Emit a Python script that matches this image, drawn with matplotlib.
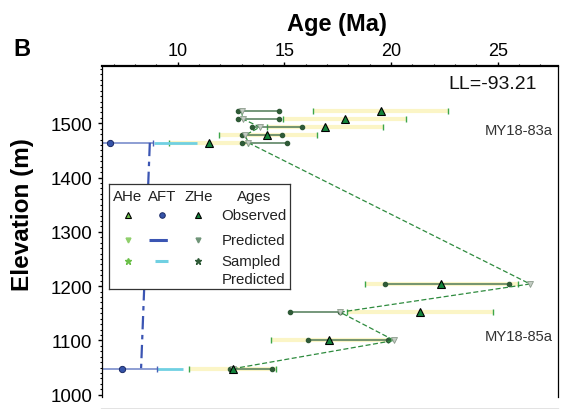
import matplotlib
matplotlib.use("Agg")
import matplotlib.pyplot as plt
from matplotlib.ticker import MultipleLocator

plt.rcParams['font.family'] = ['Liberation Sans', 'DejaVu Sans']

# MY18-83a (upper sample, grains offset in elevation)
elev_83 = [1523, 1508, 1493, 1478, 1464]
obs_83 = [19.52, 17.84, 16.90, 14.20, 11.46]
obs_lo_83 = [16.36, 14.95, 14.17, 11.93, 9.60]
obs_hi_83 = [22.66, 20.70, 19.61, 16.52, 13.32]
pred_83 = [13.00, 13.05, 13.86, 13.16, 13.32]
samp_lo_83 = [12.85, 12.85, 13.47, 13.00, 13.00]
samp_hi_83 = [14.75, 14.75, 15.84, 14.90, 15.11]

# MY18-85a (lower sample)
elev_85 = [1204, 1152, 1100, 1048]
obs_85 = [22.34, 21.36, 17.11, 12.58]
obs_lo_85 = [18.78, 17.92, 14.38, 10.55]
obs_hi_85 = [25.96, 24.79, 19.87, 14.61]
pred_85 = [26.51, 17.61, 20.15, 12.61]
samp_lo_85 = [19.72, 15.27, 16.13, 12.46]
samp_hi_85 = [25.54, 17.61, 19.87, 14.41]

# AFT
aft_elev = [1464, 1048]
aft_obs = [6.84, 7.40]
aft_lo = [5.00, 5.80]
aft_hi = [8.85, 9.03]
aft_pred = [8.70, 8.29]
aft_samp_lo = [8.91, 9.03]
aft_samp_hi = [10.90, 10.27]

y_ticks = [1000, 1100, 1200, 1300, 1400, 1500]

elev = elev_83 + elev_85
obs = obs_83 + obs_85
obs_lo = obs_lo_83 + obs_lo_85
obs_hi = obs_hi_83 + obs_hi_85
pred = pred_83 + pred_85
samp_lo = samp_lo_83 + samp_lo_85
samp_hi = samp_hi_83 + samp_hi_85

fig = plt.figure(figsize=(5.62, 4.10), dpi=100)
ax = fig.add_axes([102/562, 12/410, 456/562, 331/410])

# observed error bars (yellow) with green caps
for e, lo, hi in zip(elev, obs_lo, obs_hi):
    ax.plot([lo, hi], [e, e], color='#fbf5c6', lw=3.0, solid_capstyle='butt', zorder=1)
    ax.plot([lo, hi], [e, e], ls='none', marker='|', ms=5, mew=1.0, color='#3da64a', zorder=2)

# AFT observed range, sampled range, predicted profile
for e, lo, hi, slo, shi in zip(aft_elev, aft_lo, aft_hi, aft_samp_lo, aft_samp_hi):
    ax.plot([lo, hi], [e, e], color='#6f84c8', lw=1.1, zorder=2)
    ax.plot([hi], [e], ls='none', marker='|', ms=5, mew=1.0, color='#4a62b8', zorder=3)
    ax.plot([slo, shi], [e, e], color='#70d0e2', lw=2.0, solid_capstyle='butt', zorder=2)
ax.plot(aft_pred, aft_elev, color='#3b55b3', lw=1.6, dashes=(6, 2.5, 2, 2.5), zorder=3)
ax.plot(aft_obs, aft_elev, ls='none', marker='o', ms=4.5, mfc='#3553a8', mec='#1b2a66',
        mew=0.7, zorder=6)

# sampled predicted ranges
for e, lo, hi in zip(elev, samp_lo, samp_hi):
    ax.plot([lo, hi], [e, e], color='#4f7a57', lw=1.1, marker='o', ms=3,
            mfc='#2f5a37', mec='#2f5a37', zorder=3)

# predicted profile
ax.plot(pred, elev, color='#2e8b3e', lw=0.9, ls=(0, (4, 2)), zorder=4)
ax.plot(pred, elev, ls='none', marker='v', ms=4, mfc='#c3ccc3', mec='#8d9c8d', mew=0.6, zorder=5)

# observed ages
ax.plot(obs, elev, ls='none', marker='^', ms=5.5, mfc='#13843b', mec='black', mew=0.8, zorder=6)

ax.set_xlim(6.46, 27.82)
ax.set_ylim(995.8, 1605.5)

ax.xaxis.set_major_locator(MultipleLocator(5))
ax.xaxis.set_minor_locator(MultipleLocator(1))
ax.set_yticks(y_ticks)
ax.yaxis.set_minor_locator(MultipleLocator(10))
ax.tick_params(axis='x', which='both', top=True, labeltop=True, bottom=True,
               labelbottom=False, direction='out', labelsize=13, pad=2)
ax.tick_params(axis='y', which='both', left=True, right=False, direction='out',
               labelsize=13.5, pad=4)
ax.tick_params(which='major', length=3, width=1)
ax.tick_params(which='minor', length=1.5, width=0.8)
ax.spines['bottom'].set_position(('outward', 9))
for s in ['top', 'bottom']:
    ax.spines[s].set_linewidth(1.6)
ax.spines['left'].set_linewidth(0.9)
ax.spines['right'].set_linewidth(0.9)

ax.text(0.954, 0.946, 'LL=-93.21', transform=ax.transAxes, ha='right', va='center',
        fontsize=14, color='#111111')
ax.text(0.989, 0.807, 'MY18-83a', transform=ax.transAxes, ha='right', va='center',
        fontsize=10.6, color='#333333')
ax.text(0.989, 0.183, 'MY18-85a', transform=ax.transAxes, ha='right', va='center',
        fontsize=10.6, color='#333333')

fig.text(337/562, 1 - 24/410, 'Age (Ma)', ha='center', va='center', fontsize=17,
         fontweight='bold')
fig.text(23/562, 1 - 215/410, 'Elevation (m)', ha='center', va='center', rotation=90,
         fontsize=17.5, fontweight='bold')
fig.text(22/562, 1 - 49/410, 'B', ha='center', va='center', fontsize=17, fontweight='bold')

# legend box, drawn in its own pixel-like coordinates
lg = fig.add_axes([109.3/562, (410 - 290)/410, (290 - 109.3)/562, (290 - 185)/410])
lg.set_xlim(109.3, 290)
lg.set_ylim(290, 185)
lg.set_xticks([])
lg.set_yticks([])
for s in lg.spines.values():
    s.set_linewidth(0.9)
    s.set_color('#333333')
lg.set_zorder(10)

col_x = [127.5, 161.7, 199.2]
header = ['AHe', 'AFT', 'ZHe']
for x, h in zip(col_x, header):
    lg.text(x, 197, h, ha='center', va='center', fontsize=10.8, color='#222222')
lg.text(254, 197, 'Ages', ha='center', va='center', fontsize=10.8, color='#222222')
row_y = [216, 241, 262]
for y, t in zip(row_y, ['Observed', 'Predicted', 'Sampled']):
    lg.text(221.7, y, t, ha='left', va='center', fontsize=10.8, color='#222222')
lg.text(221.7, 280, 'Predicted', ha='left', va='center', fontsize=10.8, color='#222222')

# observed
lg.plot([128.3], [216], marker='^', ms=5, mfc='#6cc04a', mec='black', mew=0.8, ls='none')
lg.plot([161.7], [216], marker='o', ms=4, mfc='#3553a8', mec='#1b2a66', mew=0.7, ls='none')
lg.plot([198.3], [216], marker='^', ms=5, mfc='#13843b', mec='black', mew=0.8, ls='none')
# predicted
lg.plot([128.3], [241], marker='v', ms=3.5, mfc='#8fcf6b', mec='#8fcf6b', ls='none')
lg.plot([149, 173], [241, 241], color='#3b55b3', lw=2.2, dashes=(6, 2.5, 2, 2.5))
lg.plot([198.3], [241], marker='v', ms=3.5, mfc='#6f9478', mec='#6f9478', ls='none')
# sampled predicted
lg.plot([128.3], [262], marker='*', ms=5, mfc='#6cc04a', mec='#6cc04a', ls='none')
lg.plot([155, 168], [262, 262], color='#70d0e2', lw=2.2, solid_capstyle='butt')
lg.plot([198.3], [262], marker='*', ms=5, mfc='#2f5a37', mec='#2f5a37', ls='none')

fig.savefig('out.png', dpi=100)
